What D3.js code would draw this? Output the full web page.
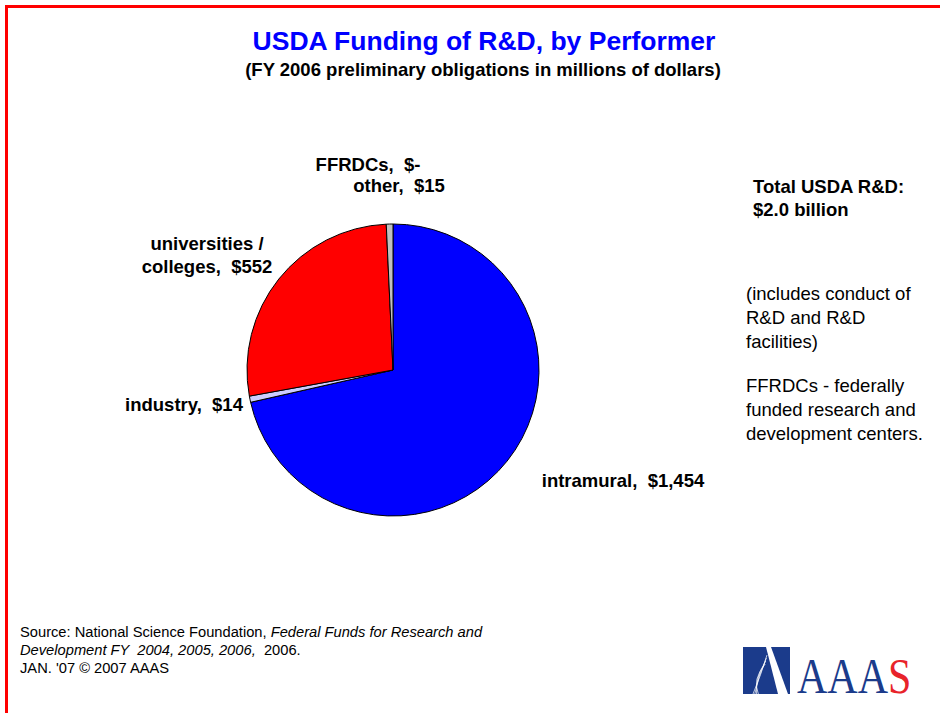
<!DOCTYPE html>
<html>
<head>
<meta charset="utf-8">
<script src="https://cdn.jsdelivr.net/npm/d3@7"></script>
<style>
  body { margin: 0; background: #fff; }
  text { font-family: "Liberation Sans", Arial, sans-serif; white-space: pre; }
</style>
</head>
<body>
<div id="chart"></div>
<script>
// USDA R&D funding by performer, FY 2006 (millions of dollars)
const performers = ["intramural", "industry", "universities / colleges", "other", "FFRDCs"];
const amounts = [1454, 14, 552, 15, 0];
const valueLabels = ["$1,454", "$14", "$552", "$15", "$-"];

const sideNotes = [
    ["Total USDA R&D:", "$2.0 billion"],
    ["(includes conduct of", "R&D and R&D", "facilities)"],
    ["FFRDCs - federally", "funded research and", "development centers."]
];

const width = 940;
const height = 713;
const cx = 393, cy = 370, radius = 146;

// label anchors relative to the pie centre (text-anchor middle, first baseline)
const labelOffset = {
    "intramural": [230, 117],
    "industry": [-209, 41],
    "universities / colleges": [-186, -120],
    "other": [6, -178],
    "FFRDCs": [-25, -199]
};

const color = d3.scaleOrdinal()
    .domain(performers)
    .range(["#0000FF", "#CCCCFF", "#FF0000", "#C0C0C0", "#FFFFFF"]);

const svg = d3.select('#chart')
    .append('svg')
    .attr('width', width)
    .attr('height', height);

// red frame, top and left
svg.append('path')
    .attr('d', `M6.5,${height} L6.5,6.5 L${width},6.5`)
    .attr('fill', 'none')
    .attr('stroke', '#FF0000')
    .attr('stroke-width', 3);

svg.append('text')
    .attr('x', 484)
    .attr('y', 50)
    .attr('text-anchor', 'middle')
    .style('font-size', '26.5px')
    .style('font-weight', 700)
    .attr('fill', '#0000FF')
    .text('USDA Funding of R&D, by Performer');

svg.append('text')
    .attr('x', 483)
    .attr('y', 76)
    .attr('text-anchor', 'middle')
    .style('font-size', '18.5px')
    .style('font-weight', 700)
    .text('(FY 2006 preliminary obligations in millions of dollars)');

const rows = performers.map((p, i) => ({ name: p, value: amounts[i], label: valueLabels[i] }));

const pie = d3.pie()
    .sort(null)
    .value(d => d.value);

const arc = d3.arc()
    .innerRadius(0)
    .outerRadius(radius);

const arcs = pie(rows);

const pieG = svg.append('g')
    .attr('transform', `translate(${cx}, ${cy})`);

pieG.selectAll('path')
    .data(arcs.filter(d => d.data.value > 0))
    .join('path')
    .attr('d', arc)
    .attr('fill', d => color(d.data.name))
    .attr('stroke', '#000')
    .attr('stroke-width', 1)
    .attr('stroke-linejoin', 'round');

// slice labels
const labels = pieG.selectAll('.slice-label')
    .data(arcs)
    .join('text')
    .attr('class', 'slice-label')
    .attr('xml:space', 'preserve')
    .attr('text-anchor', 'middle')
    .style('font-size', '18.5px')
    .style('font-weight', 700)
    .attr('transform', d => `translate(${labelOffset[d.data.name][0]}, ${labelOffset[d.data.name][1]})`);

labels.selectAll('tspan')
    .data(d => {
        const parts = d.data.name.split(' / ');
        if (parts.length > 1) return [parts[0] + ' /', parts[1] + ',  ' + d.data.label];
        return [d.data.name + ',  ' + d.data.label];
    })
    .join('tspan')
    .attr('x', 0)
    .attr('dy', (d, i) => i === 0 ? 0 : 23)
    .text(d => d);

// notes on the right
const noteTop = [193, 300, 392];
sideNotes.forEach((lines, k) => {
    svg.append('text')
        .attr('x', k === 0 ? 753 : 746)
        .attr('y', noteTop[k])
        .style('font-size', '18.5px')
        .style('font-weight', k === 0 ? 700 : 400)
        .selectAll('tspan')
        .data(lines)
        .join('tspan')
        .attr('x', k === 0 ? 753 : 746)
        .attr('dy', (d, i) => i === 0 ? 0 : (k === 0 ? 23 : 24))
        .text(d => d);
});

// source
const src = svg.append('g')
    .style('font-size', '14.7px');

const s1 = src.append('text').attr('x', 20).attr('y', 637).attr('xml:space', 'preserve');
s1.append('tspan').text('Source: National Science Foundation, ');
s1.append('tspan').style('font-style', 'italic').text('Federal Funds for Research and');

const s2 = src.append('text').attr('x', 20).attr('y', 655).attr('xml:space', 'preserve');
s2.append('tspan').style('font-style', 'italic').text('Development FY  2004, 2005, 2006,');
s2.append('tspan').text('  2006.');

src.append('text').attr('x', 20).attr('y', 673).text("JAN. '07 \u00A9 2007 AAAS");

// AAAS logo
const logo = svg.append('g').attr('transform', 'translate(743, 647)');
logo.append('rect')
    .attr('width', 47)
    .attr('height', 47)
    .attr('fill', '#1b3b8b');
logo.append('path')
    .attr('d', 'M23,0 L28,0 L45,47 L35,47 Z')
    .attr('fill', '#fff');
[0, 3, 6, 9].forEach(o => {
    logo.append('path')
        .attr('d', `M${24 - o * 0.2},${8 + o} Q${18 - o},${28 + o * 0.5} ${10 + o * 0.6},47`)
        .attr('fill', 'none')
        .attr('stroke', '#fff')
        .attr('stroke-opacity', 0.8)
        .attr('stroke-width', 0.9);
});

const logoText = svg.append('text')
    .attr('transform', 'translate(797, 693) scale(0.84, 1)')
    .style('font-family', '"Liberation Serif", "Times New Roman", serif')
    .style('font-size', '50px')
    .attr('fill', '#1b3b8b');
logoText.append('tspan').text('AAA');
logoText.append('tspan').attr('fill', '#E8232A').text('S');
</script>
</body>
</html>
